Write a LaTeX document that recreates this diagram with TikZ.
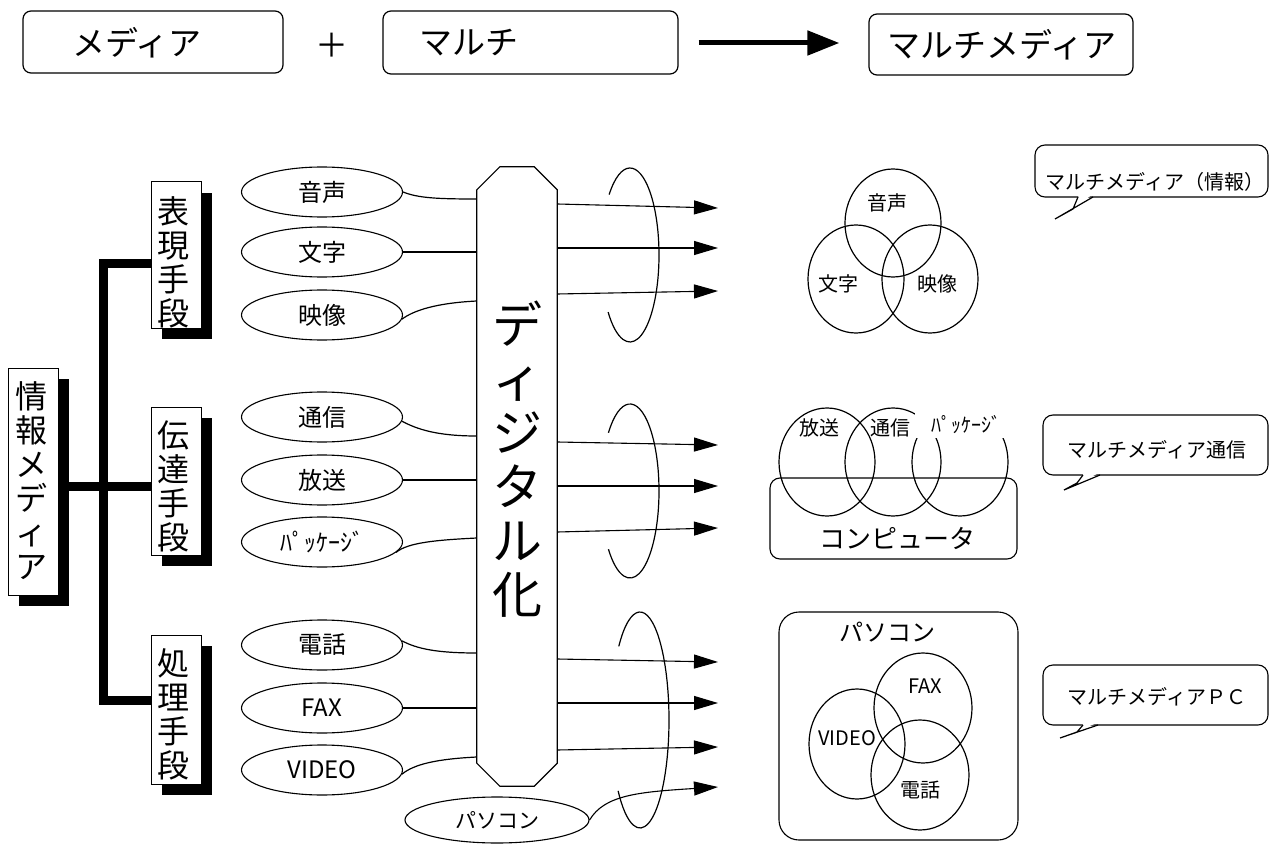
\documentclass[tikz,border=0pt]{standalone}
\usepackage{fontspec}
\setmainfont{Noto Sans CJK JP}
\usetikzlibrary{arrows.meta,shapes.geometric,shadows}
\begin{document}
\begin{tikzpicture}[x=1pt,y=-1pt,
  ln/.style={line width=1.2pt},
  topbox/.style={draw,line width=1.2pt,rounded corners=8pt,inner sep=0pt},
  toptext/.style={inner sep=0pt,font=\fontsize{33pt}{36pt}\selectfont},
  shbox/.style={draw,fill=white,line width=1pt,inner sep=0pt,minimum width=50pt,
    drop shadow={shadow xshift=11pt,shadow yshift=-11pt,fill=black,opacity=1}},
  vtext/.style={inner sep=0pt,align=center,font=\fontsize{32pt}{34pt}\selectfont},
  tree/.style={line width=9pt,line join=miter},
  ell/.style={draw,ellipse,line width=1.1pt,minimum width=161pt,minimum height=50pt,inner sep=0pt,
    font=\fontsize{24pt}{26pt}\selectfont},
  arr/.style={line width=1.1pt,-{Triangle[length=24pt,width=14pt]}},
  bigarrow/.style={line width=5pt,-{Triangle[length=32pt,width=24pt]}},
  vl/.style={inner sep=0pt,font=\fontsize{20pt}{22pt}\selectfont},
  bubble/.style={draw,line width=1.1pt,rounded corners=10pt,inner sep=0pt},
  btext/.style={inner sep=0pt,font=\fontsize{20pt}{22pt}\selectfont}]
\useasboundingbox (0,0) rectangle (1275,845);

% top row
\node[topbox,minimum width=260pt,minimum height=62pt] (m1) at (153,42) {};
\node[toptext] (m1t) at (137,43) {メディア};
\node[toptext] (plus) at (332,45) {＋};
\node[topbox,minimum width=295pt,minimum height=63pt] (m2) at (530.5,42.5) {};
\node[toptext] (m2t) at (469,43) {マルチ};
\node[topbox,minimum width=264pt,minimum height=61pt] (m3) at (1001,44.5) {};
\node[toptext] (m3t) at (1002,45) {マルチメディア};
\draw[bigarrow,shorten <=20pt,shorten >=29pt] (m2.east |- 0,43) -- (m3.west |- 0,43);

% left tree
\node[shbox,minimum height=227pt] (root) at (33,481.5) {};
\node[vtext] (roott) at (31,481) {情\\報\\メ\\デ\\ィ\\ア};
\node[shbox,minimum height=146pt] (b1) at (176,255) {};
\node[vtext] (b1t) at (173,262) {表\\現\\手\\段};
\node[shbox,minimum height=148pt] (b2) at (176,481) {};
\node[vtext] (b2t) at (173,486) {伝\\達\\手\\段};
\node[shbox,minimum height=149pt] (b3) at (176,709.5) {};
\node[vtext] (b3t) at (173,714) {処\\理\\手\\段};
\draw[tree] (b1.west |- 0,264) -| (103.5,700) -- (b3.west |- 0,700);
\draw[tree] (root.east |- 0,486) -- (b2.west |- 0,486);

% ellipses
\node[ell] (e1) at (322,192) {音声};
\node[ell] (e2) at (322,252) {文字};
\node[ell] (e3) at (322,315) {映像};
\node[ell] (e4) at (322,417) {通信};
\node[ell] (e5) at (322,480) {放送};
\node[ell] (e6) at (322,542) {ﾊﾟｯｹｰｼﾞ};
\node[ell] (e7) at (322,645) {電話};
\node[ell] (e8) at (322,708) {FAX};
\node[ell] (e9) at (322,770) {VIDEO};

% digital column
\node[minimum width=80pt,minimum height=619pt,inner sep=0pt] (col) at (517,476.5) {};
\draw[ln] ([yshift=-23pt]col.north west) -- ([xshift=23pt]col.north west) -- ([xshift=-23pt]col.north east)
  -- ([yshift=-23pt]col.north east) -- ([yshift=23pt]col.south east) -- ([xshift=-23pt]col.south east)
  -- ([xshift=23pt]col.south west) -- ([yshift=23pt]col.south west) -- cycle;
\node[inner sep=0pt,align=center,font=\fontsize{50pt}{54pt}\selectfont] (colt) at (517,459) {デ\\ィ\\ジ\\タ\\ル\\化};

% connectors into column
\draw[ln] (e1.east) .. controls +(15,6) and +(-40,0) .. (col.west |- 0,199);
\draw[ln] (e2.east) -- (col.west |- e2.east);
\draw[ln] (e3.-3) .. controls +(12,-9) and +(-40,2) .. (col.west |- 0,301);
\draw[ln] (e4.-3) .. controls +(15,8) and +(-40,0) .. (col.west |- 0,436);
\draw[ln] (e5.east) -- (col.west |- e5.east);
\draw[ln] (e6.-8) .. controls +(12,-10) and +(-40,2) .. (col.west |- 0,538);
\draw[ln] (e7.3) .. controls +(15,8) and +(-40,0) .. (col.west |- 0,653);
\draw[ln] (e8.east) -- (col.west |- e8.east);
\draw[ln] (e9.-3) .. controls +(12,-10) and +(-40,2) .. (col.west |- 0,757);

% arrows out of column
\coordinate (t1) at (718,208);
\coordinate (t2) at (718,248);
\coordinate (t3) at (718,291);
\coordinate (t4) at (718,445);
\coordinate (t5) at (718,486);
\coordinate (t6) at (718,528);
\coordinate (t7) at (718,662);
\coordinate (t8) at (718,703);
\coordinate (t9) at (718,747);
\coordinate (t10) at (718,787);
\draw[arr] (col.east |- 0,204) -- (t1);
\draw[arr] (col.east |- 0,248) -- (t2);
\draw[arr] (col.east |- 0,294) -- (t3);
\draw[arr] (col.east |- 0,442) -- (t4);
\draw[arr] (col.east |- 0,486) -- (t5);
\draw[arr] (col.east |- 0,532) -- (t6);
\draw[arr] (col.east |- 0,659) -- (t7);
\draw[arr] (col.east |- 0,703) -- (t8);
\draw[arr] (col.east |- 0,750) -- (t9);

\node[draw,ellipse,line width=1.1pt,minimum width=184pt,minimum height=46pt,inner sep=0pt,
  font=\fontsize{21pt}{23pt}\selectfont] (pc) at (497,820) {パソコン};
\draw[arr] (pc.east) .. controls +(15,-25) and +(-80,5) .. (t10);

% bundle loops
\draw[ln] ([shift={(-136:29 and 87)}]630,255) arc[start angle=-136,end angle=139,x radius=29,y radius=87];
\draw[ln] ([shift={(-138:29 and 87)}]630,491) arc[start angle=-138,end angle=138,x radius=29,y radius=87];
\draw[ln] ([shift={(-137:29 and 108)}]640,720) arc[start angle=-137,end angle=139,x radius=29,y radius=108];

% Venn 1
\draw[ln] (893,223) ellipse[x radius=48,y radius=54];
\draw[ln] (856,279) ellipse[x radius=48,y radius=54];
\draw[ln] (930,279) ellipse[x radius=48,y radius=54];
\node[vl] (v1) at (887,203) {音声};
\node[vl] (v2) at (838,284) {文字};
\node[vl] (v3) at (937,284) {映像};

% Venn 2
\node[draw,line width=1.1pt,rounded corners=10pt,minimum width=247pt,minimum height=81pt,inner sep=0pt] (comp) at (893.5,518.5) {};
\draw[ln] (827,462) ellipse[x radius=48,y radius=54];
\draw[ln] (893,462) ellipse[x radius=48,y radius=54];
\draw[ln] (960,462) ellipse[x radius=48,y radius=54];
\fill[white] (915,395) rectangle (1008,438);
\node[vl] (v4) at (819,428) {放送};
\node[vl] (v5) at (890,428) {通信};
\node[vl] (v6) at (966,425) {ﾊﾟｯｹｰｼﾞ};
\node[inner sep=0pt,font=\fontsize{26pt}{28pt}\selectfont] (compt) at (897,538) {コンピュータ};

% Venn 3
\node[draw,line width=1.1pt,rounded corners=20pt,minimum width=239pt,minimum height=228pt,inner sep=0pt] (pcbox) at (898.5,726) {};
\node[inner sep=0pt,font=\fontsize{24pt}{26pt}\selectfont] (pcl) at (887,632) {パソコン};
\draw[ln] (923,708) ellipse[x radius=49,y radius=55];
\draw[ln] (857,744) ellipse[x radius=48,y radius=55];
\draw[ln] (920,775) ellipse[x radius=49,y radius=55];
\node[vl] (v7) at (925,686) {FAX};
\node[vl] (v8) at (847,738) {VIDEO};
\node[vl] (v9) at (920,790) {電話};

% callouts
\node[bubble,minimum width=233pt,minimum height=52pt] (c1) at (1151.5,171) {};
\fill[white] (1079,195) -- (1073,209) -- (1055,219) -- (1092,195) -- cycle;
\draw[ln] (1078,197) -- (1073,209) -- (1055,219) -- (1093,197);
\node[btext] (c1t) at (1155,182) {マルチメディア（情報）};

\node[bubble,minimum width=225pt,minimum height=60pt] (c2) at (1155.5,445) {};
\fill[white] (1084,473) -- (1077,483) -- (1064,490) -- (1099,473) -- cycle;
\draw[ln] (1083,475) -- (1077,483) -- (1064,490) -- (1100,475);
\node[btext] (c2t) at (1157,450) {マルチメディア通信};

\node[bubble,minimum width=225pt,minimum height=60pt] (c3) at (1155.5,695) {};
\fill[white] (1084,723) -- (1077,732) -- (1060,738) -- (1097,723) -- cycle;
\draw[ln] (1083,725) -- (1077,732) -- (1060,738) -- (1098,725);
\node[btext] (c3t) at (1157,697) {マルチメディアＰＣ};
\end{tikzpicture}
\end{document}
